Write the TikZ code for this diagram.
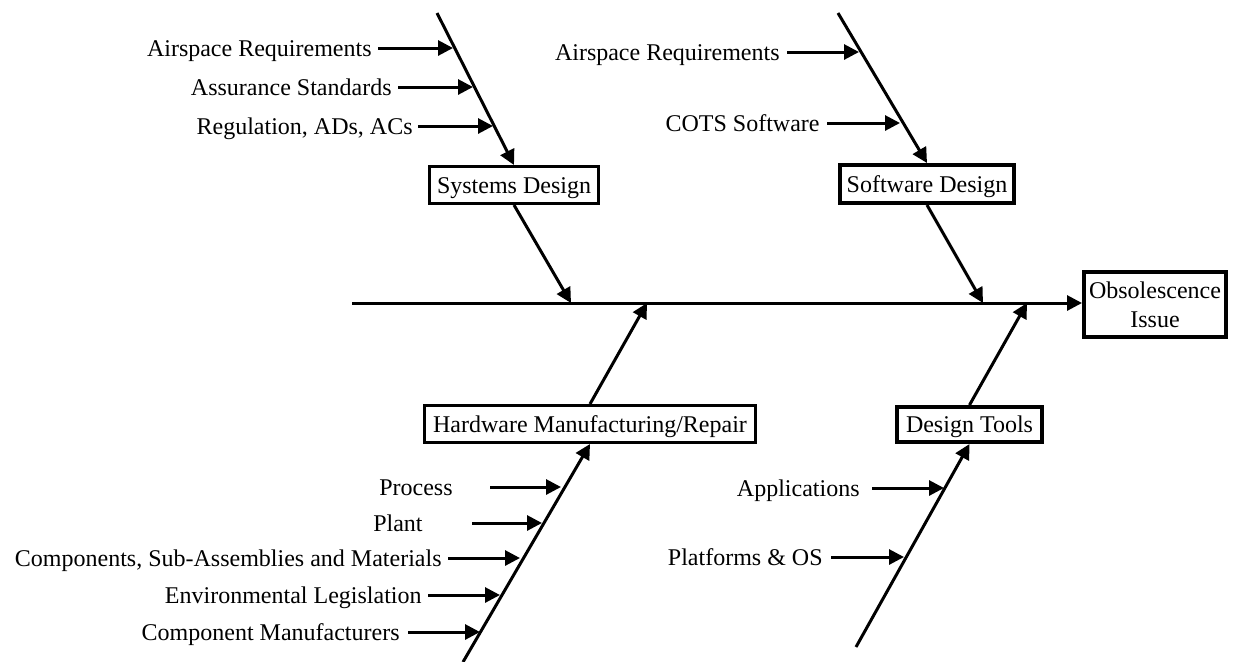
\documentclass[tikz,border=0pt]{standalone}
\usepackage{fontspec}
\setmainfont{Liberation Serif}
\usetikzlibrary{arrows.meta}
\begin{document}
\begin{tikzpicture}[x=0.5pt,y=-0.5pt,
  ln/.style={line width=1.5pt},
  arr/.style={line width=1.5pt,-{Triangle[length=7.5pt,width=7.5pt]}},
  lbl/.style={font=\fontsize{12pt}{14.5pt}\selectfont, anchor=east, inner sep=0pt, text height=8pt, text depth=0pt},
  box/.style={draw, line width=1.5pt, font=\fontsize{12pt}{14.5pt}\selectfont, inner sep=0pt, text height=8pt, text depth=0pt},
  boxb/.style={box, line width=2pt}]
\useasboundingbox (0,0) rectangle (1233,661);

% effect
\node[draw, line width=2pt, font=\fontsize{12pt}{14.5pt}\selectfont, align=center, inner sep=0pt,
      minimum width=71pt, minimum height=32.5pt] (obs) at (1155,304.5) {Obsolescence\\Issue};
\coordinate (tail) at (352,303);
\draw[arr] (tail) -- (obs.west |- tail);

% category boxes
\node[box, minimum width=84.5pt, minimum height=18.5pt] (sys) at (514,185) {Systems Design};
\node[boxb, minimum width=87pt, minimum height=19pt] (sw) at (927,184) {Software Design};
\node[box, minimum width=165.5pt, minimum height=18.5pt] (hw) at (590,424) {Hardware Manufacturing/Repair};
\node[boxb, minimum width=72.5pt, minimum height=17.5pt] (dt) at (969.5,424.5) {Design Tools};

% branch end points
\coordinate (systop) at (437,13);
\coordinate (sysend) at (571,303);
\coordinate (swtop) at (838,13);
\coordinate (swend) at (983,303);
\coordinate (hwbot) at (463,662);
\coordinate (hwend) at (647,303);
\coordinate (dtbot) at (856,647);
\coordinate (dtend) at (1027,303);

% branches
\draw[arr] (systop) -- (sys.north);
\draw[arr] (sys.south) -- (sysend);
\draw[arr] (swtop) -- (sw.north);
\draw[arr] (sw.south) -- (swend);
\draw[arr] (hwbot) -- (hw.south);
\draw[arr] (hw.north) -- (hwend);
\draw[arr] (dtbot) -- (dt.south);
\draw[arr] (dt.north) -- (dtend);

% Systems Design causes
\node[lbl] (s1) at (372,48) {Airspace Requirements};
\node[lbl] (s2) at (392,87) {Assurance Standards};
\node[lbl] (s3) at (413,126) {Regulation, ADs, ACs};
\coordinate (s1t) at (453,48);
\coordinate (s2t) at (473,87);
\coordinate (s3t) at (493,126);
\draw[arr] (s1.east) ++(6,0) -- (s1t);
\draw[arr] (s2.east) ++(6,0) -- (s2t);
\draw[arr] (s3.east) ++(5,0) -- (s3t);

% Software Design causes
\node[lbl] (w1) at (780,52) {Airspace Requirements};
\node[lbl] (w2) at (820,123) {COTS Software};
\coordinate (w1t) at (859,52);
\coordinate (w2t) at (900,123);
\draw[arr] (w1.east) ++(7,0) -- (w1t);
\draw[arr] (w2.east) ++(7,0) -- (w2t);

% Hardware causes
\node[lbl] (h1) at (453,487) {Process};
\node[lbl] (h2) at (423,523) {Plant};
\node[lbl] (h3) at (442,558) {Components, Sub-Assemblies and Materials};
\node[lbl] (h4) at (422,595) {Environmental Legislation};
\node[lbl] (h5) at (400,632) {Component Manufacturers};
\coordinate (h1t) at (561,487);
\coordinate (h2t) at (542,523);
\coordinate (h3t) at (520,558);
\coordinate (h4t) at (500,595);
\coordinate (h5t) at (480,632);
\draw[arr] (h1.east) ++(37,0) -- (h1t);
\draw[arr] (h2.east) ++(49,0) -- (h2t);
\draw[arr] (h3.east) ++(6,0) -- (h3t);
\draw[arr] (h4.east) ++(6,0) -- (h4t);
\draw[arr] (h5.east) ++(8,0) -- (h5t);

% Design Tools causes
\node[lbl] (d1) at (860,488) {Applications};
\node[lbl] (d2) at (823,557) {Platforms \& OS};
\coordinate (d1t) at (944,488);
\coordinate (d2t) at (904,557);
\draw[arr] (d1.east) ++(12,0) -- (d1t);
\draw[arr] (d2.east) ++(8,0) -- (d2t);
\end{tikzpicture}
\end{document}
